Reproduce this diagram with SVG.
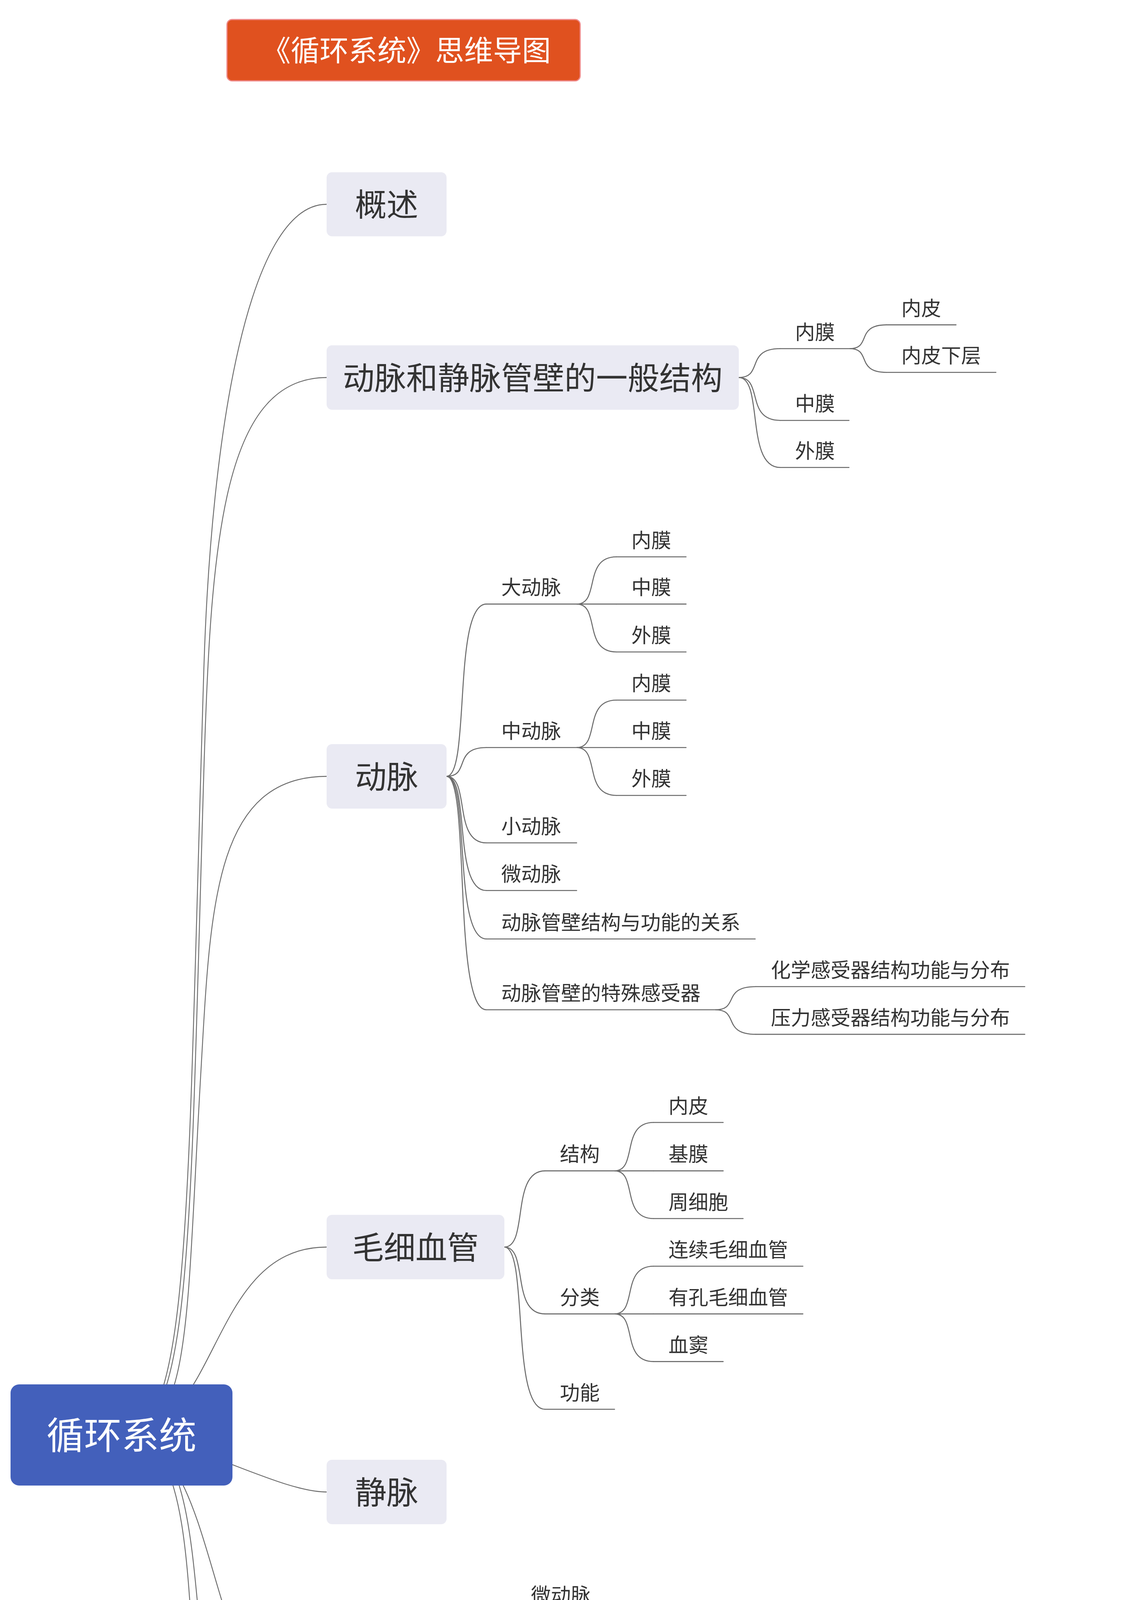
<svg xmlns="http://www.w3.org/2000/svg" width="2900" height="6956" viewBox="0 0 2900 6956">
<style>
text{font-family:"Liberation Sans","Noto Sans CJK SC",sans-serif;}
.mb{fill:#eaeaf3;}
.mt{font-size:81px;fill:#333;text-anchor:middle;}
.t{font-size:51px;fill:#333;}
.ul{stroke:#6b6b6b;stroke-width:2.6;fill:none;stroke-linecap:round;}
.c{stroke:#6b6b6b;stroke-width:2.6;fill:none;}
.rc{stroke:#6b6b6b;stroke-width:2.3;fill:none;}
</style>
<rect width="2900" height="6956" fill="#ffffff"/>
<g id="connectors">
<g id="root-connectors">
<path class="rc" d="M836 523 C636 523 541 1106 522 1706 C478.6 3106 491 3673 311 3673"/>
<path class="rc" d="M836 966.5 C566 966.5 538.6 1400 521 2000 C486 3190 491 3673 311 3673"/>
<path class="rc" d="M836 1987.5 C546 1987.5 538.4 2327 514 2747 C476 3397 491 3673 311 3673"/>
<path class="rc" d="M836 3192.5 C531 3192.5 566 3673 311 3673"/>
<path class="rc" d="M836 3819.5 C709 3819.5 472 3673 311 3673"/>
<path class="rc" d="M836 4383.5 C636 4383.5 623.3 4277.9 567.9 4097.9 C506.3 3897.9 461 3673 311 3673"/>
<path class="rc" d="M836 5039 C596 5039 562.3 4693 529.6 4363.2 C485 3913 491 3673 311 3673"/>
<path class="rc" d="M836 6122.5 C556 6122.5 533.5 5578 510.5 4777.8 C488.2 4002.8 491 3673 311 3673"/>
</g>
<path class="c" d="M1891 966.5 C1954.6 966.5 1906.9 892.5 1997 892.5"/>
<path class="c" d="M1891 966.5 C1954.6 966.5 1906.9 1076.2 1997 1076.2"/>
<path class="c" d="M1891 966.5 C1954.6 966.5 1906.9 1196.7 1997 1196.7"/>
<path class="c" d="M2175 892.5 C2231.4 892.5 2189.1 831.6 2269 831.6"/>
<path class="c" d="M2175 892.5 C2231.4 892.5 2189.1 953.3 2269 953.3"/>

<path class="c" d="M1143 1987.5 C1204.2 1987.5 1158.3 1546.4 1245 1546.4"/>
<path class="c" d="M1143 1987.5 C1204.2 1987.5 1158.3 1913.8 1245 1913.8"/>
<path class="c" d="M1143 1987.5 C1204.2 1987.5 1158.3 2157.8 1245 2157.8"/>
<path class="c" d="M1143 1987.5 C1204.2 1987.5 1158.3 2279.8 1245 2279.8"/>
<path class="c" d="M1143 1987.5 C1204.2 1987.5 1158.3 2403.7 1245 2403.7"/>
<path class="c" d="M1143 1987.5 C1204.2 1987.5 1158.3 2585 1245 2585"/>
<path class="c" d="M1476 1546.4 C1537.2 1546.4 1491.3 1425.5 1578 1425.5"/>
<path class="c" d="M1476 1546.4 L1578 1546.4"/>
<path class="c" d="M1476 1546.4 C1537.2 1546.4 1491.3 1669 1578 1669"/>
<path class="c" d="M1476 1913.8 C1537.2 1913.8 1491.3 1792.3 1578 1792.3"/>
<path class="c" d="M1476 1913.8 L1578 1913.8"/>
<path class="c" d="M1476 1913.8 C1537.2 1913.8 1491.3 2036.2 1578 2036.2"/>
<path class="c" d="M1831 2585 C1893.4 2585 1846.6 2525.8 1935 2525.8"/>
<path class="c" d="M1831 2585 C1893.4 2585 1846.6 2647.9 1935 2647.9"/>

<path class="c" d="M1291 3192.5 C1353.4 3192.5 1306.6 2997.4 1395 2997.4"/>
<path class="c" d="M1291 3192.5 C1353.4 3192.5 1306.6 3363.6 1395 3363.6"/>
<path class="c" d="M1291 3192.5 C1353.4 3192.5 1306.6 3607.7 1395 3607.7"/>
<path class="c" d="M1573 2997.4 C1633 2997.4 1588 2873.5 1673 2873.5"/>
<path class="c" d="M1573 2997.4 L1673 2997.4"/>
<path class="c" d="M1573 2997.4 C1633 2997.4 1588 3119.5 1673 3119.5"/>
<path class="c" d="M1573 3363.6 C1633 3363.6 1588 3241.5 1673 3241.5"/>
<path class="c" d="M1573 3363.6 L1673 3363.6"/>
<path class="c" d="M1573 3363.6 C1633 3363.6 1588 3485.6 1673 3485.6"/>

<path class="c" d="M1219 4383.5 C1280.2 4383.5 1234.3 4125.5 1321 4125.5"/>
<path class="c" d="M1219 4383.5 C1280.2 4383.5 1234.3 4247.6 1321 4247.6"/>
<path class="c" d="M1219 4383.5 C1280.2 4383.5 1234.3 4371.5 1321 4371.5"/>
<path class="c" d="M1219 4383.5 C1280.2 4383.5 1234.3 4493.5 1321 4493.5"/>
<path class="c" d="M1219 4383.5 C1280.2 4383.5 1234.3 4615.6 1321 4615.6"/>
<path class="c" d="M1219 4383.5 C1280.2 4383.5 1234.3 4737.7 1321 4737.7"/>

<path class="c" d="M1369 5039 C1431.4 5039 1384.6 4965.1 1473 4965.1"/>
<path class="c" d="M1369 5039 C1431.4 5039 1384.6 5087.2 1473 5087.2"/>
<path class="c" d="M1369 5039 C1431.4 5039 1384.6 5209.3 1473 5209.3"/>

<path class="c" d="M1143 6122.5 C1204.2 6122.5 1158.3 5741.9 1245 5741.9"/>
<path class="c" d="M1143 6122.5 C1204.2 6122.5 1158.3 6535.3 1245 6535.3"/>
<path class="c" d="M1576 5741.9 C1638.4 5741.9 1591.6 5558.8 1680 5558.8"/>
<path class="c" d="M1576 5741.9 C1638.4 5741.9 1591.6 5803 1680 5803"/>
<path class="c" d="M1576 5741.9 C1638.4 5741.9 1591.6 5925 1680 5925"/>
<path class="c" d="M1576 5741.9 C1638.4 5741.9 1591.6 6047 1680 6047"/>
<path class="c" d="M1909 5558.8 C1971.4 5558.8 1924.6 5436.7 2013 5436.7"/>
<path class="c" d="M1909 5558.8 C1971.4 5558.8 1924.6 5621.7 2013 5621.7"/>
<path class="c" d="M2293 5621.7 C2354.2 5621.7 2308.3 5558.8 2395 5558.8"/>
<path class="c" d="M2293 5621.7 C2354.2 5621.7 2308.3 5680.9 2395 5680.9"/>
<path class="c" d="M1627 6535.3 C1689.4 6535.3 1642.6 6293 1731 6293"/>
<path class="c" d="M1627 6535.3 L1731 6535.3"/>
<path class="c" d="M1627 6535.3 C1689.4 6535.3 1642.6 6781.5 1731 6781.5"/>
<path class="c" d="M1909 6293 C1969 6293 1924 6169 2009 6169"/>
<path class="c" d="M1909 6293 L2009 6293"/>
<path class="c" d="M1909 6293 C1969 6293 1924 6415 2009 6415"/>
<path class="c" d="M2011 6781.5 C2072.2 6781.5 2026.3 6658.6 2113 6658.6"/>
<path class="c" d="M2011 6781.5 L2113 6781.5"/>
<path class="c" d="M2011 6781.5 C2072.2 6781.5 2026.3 6904.3 2113 6904.3"/>
</g>

<g id="title">
<rect x="581" y="50" width="904" height="157" rx="13" fill="#e0511f" stroke="#f08a8a" stroke-width="3"/>
<text x="1040" y="156" style="font-size:74px;fill:#ffffff;text-anchor:middle;">《循环系统》思维导图</text>
</g>

<g id="root">
<rect x="27" y="3544" width="568" height="259" rx="22" fill="#4360bb"/>
<text x="311" y="3709" style="font-size:96px;fill:#ffffff;text-anchor:middle;">循环系统</text>
</g>

<g id="m-gaishu"><rect class="mb" x="836" y="441" width="307" height="164" rx="14"/><text class="mt" x="989.5" y="553">概述</text></g>
<g id="m-jiegou"><rect class="mb" x="836" y="884" width="1055" height="165" rx="14"/><text class="mt" x="1363.5" y="996.5">动脉和静脉管壁的一般结构</text></g>
<g id="m-dongmai"><rect class="mb" x="836" y="1905" width="307" height="165" rx="14"/><text class="mt" x="989.5" y="2017.5">动脉</text></g>
<g id="m-maoxi"><rect class="mb" x="836" y="3110" width="455" height="165" rx="14"/><text class="mt" x="1063.5" y="3222.5">毛细血管</text></g>
<g id="m-jingmai"><rect class="mb" x="836" y="3737" width="307" height="165" rx="14"/><text class="mt" x="989.5" y="3849.5">静脉</text></g>
<g id="m-weixunhuan"><rect class="mb" x="836" y="4301" width="383" height="165" rx="14"/><text class="mt" x="1027.5" y="4413.5">微循环</text></g>
<g id="m-linba"><rect class="mb" x="836" y="4958" width="533" height="163" rx="14"/><text class="mt" x="1102.5" y="5069.5">淋巴管系统</text></g>
<g id="m-xinzang"><rect class="mb" x="836" y="6040" width="307" height="165" rx="14"/><text class="mt" x="989.5" y="6152.5">心脏</text></g>

<g id="a-neimo"><line class="ul" x1="1997" y1="892.5" x2="2175" y2="892.5"/><text class="t" x="2035" y="868.5">内膜</text></g>
<g id="a-neipi"><line class="ul" x1="2269" y1="831.6" x2="2447" y2="831.6"/><text class="t" x="2307" y="807.6">内皮</text></g>
<g id="a-neipixia"><line class="ul" x1="2269" y1="953.3" x2="2549" y2="953.3"/><text class="t" x="2307" y="929.3">内皮下层</text></g>
<g id="a-zhongmo"><line class="ul" x1="1997" y1="1076.2" x2="2173" y2="1076.2"/><text class="t" x="2035" y="1052.2">中膜</text></g>
<g id="a-waimo"><line class="ul" x1="1997" y1="1196.7" x2="2173" y2="1196.7"/><text class="t" x="2035" y="1172.7">外膜</text></g>

<g id="b-da"><line class="ul" x1="1245" y1="1546.4" x2="1476" y2="1546.4"/><text class="t" x="1283" y="1522.4">大动脉</text></g>
<g id="b-da-nei"><line class="ul" x1="1578" y1="1425.5" x2="1756" y2="1425.5"/><text class="t" x="1616" y="1401.5">内膜</text></g>
<g id="b-da-zhong"><line class="ul" x1="1578" y1="1546.4" x2="1756" y2="1546.4"/><text class="t" x="1616" y="1522.4">中膜</text></g>
<g id="b-da-wai"><line class="ul" x1="1578" y1="1669" x2="1756" y2="1669"/><text class="t" x="1616" y="1645">外膜</text></g>
<g id="b-zhong"><line class="ul" x1="1245" y1="1913.8" x2="1476" y2="1913.8"/><text class="t" x="1283" y="1889.8">中动脉</text></g>
<g id="b-zhong-nei"><line class="ul" x1="1578" y1="1792.3" x2="1756" y2="1792.3"/><text class="t" x="1616" y="1768.3">内膜</text></g>
<g id="b-zhong-zhong"><line class="ul" x1="1578" y1="1913.8" x2="1756" y2="1913.8"/><text class="t" x="1616" y="1889.8">中膜</text></g>
<g id="b-zhong-wai"><line class="ul" x1="1578" y1="2036.2" x2="1756" y2="2036.2"/><text class="t" x="1616" y="2012.2">外膜</text></g>
<g id="b-xiao"><line class="ul" x1="1245" y1="2157.8" x2="1476" y2="2157.8"/><text class="t" x="1283" y="2133.8">小动脉</text></g>
<g id="b-wei"><line class="ul" x1="1245" y1="2279.8" x2="1476" y2="2279.8"/><text class="t" x="1283" y="2255.8">微动脉</text></g>
<g id="b-guanxi"><line class="ul" x1="1245" y1="2403.7" x2="1933" y2="2403.7"/><text class="t" x="1283" y="2379.7">动脉管壁结构与功能的关系</text></g>
<g id="b-ganshou"><line class="ul" x1="1245" y1="2585" x2="1831" y2="2585"/><text class="t" x="1283" y="2561">动脉管壁的特殊感受器</text></g>
<g id="b-huaxue"><line class="ul" x1="1935" y1="2525.8" x2="2623" y2="2525.8"/><text class="t" x="1973" y="2501.8">化学感受器结构功能与分布</text></g>
<g id="b-yali"><line class="ul" x1="1935" y1="2647.9" x2="2623" y2="2647.9"/><text class="t" x="1973" y="2623.9">压力感受器结构功能与分布</text></g>

<g id="c-jiegou"><line class="ul" x1="1395" y1="2997.4" x2="1573" y2="2997.4"/><text class="t" x="1433" y="2973.4">结构</text></g>
<g id="c-neipi"><line class="ul" x1="1673" y1="2873.5" x2="1851" y2="2873.5"/><text class="t" x="1711" y="2849.5">内皮</text></g>
<g id="c-jimo"><line class="ul" x1="1673" y1="2997.4" x2="1851" y2="2997.4"/><text class="t" x="1711" y="2973.4">基膜</text></g>
<g id="c-zhouxibao"><line class="ul" x1="1673" y1="3119.5" x2="1902" y2="3119.5"/><text class="t" x="1711" y="3095.5">周细胞</text></g>
<g id="c-fenlei"><line class="ul" x1="1395" y1="3363.6" x2="1573" y2="3363.6"/><text class="t" x="1433" y="3339.6">分类</text></g>
<g id="c-lianxu"><line class="ul" x1="1673" y1="3241.5" x2="2055" y2="3241.5"/><text class="t" x="1711" y="3217.5">连续毛细血管</text></g>
<g id="c-youkong"><line class="ul" x1="1673" y1="3363.6" x2="2055" y2="3363.6"/><text class="t" x="1711" y="3339.6">有孔毛细血管</text></g>
<g id="c-xuedou"><line class="ul" x1="1673" y1="3485.6" x2="1851" y2="3485.6"/><text class="t" x="1711" y="3461.6">血窦</text></g>
<g id="c-gongneng"><line class="ul" x1="1395" y1="3607.7" x2="1573" y2="3607.7"/><text class="t" x="1433" y="3583.7">功能</text></g>

<g id="e-weidongmai"><line class="ul" x1="1321" y1="4125.5" x2="1548" y2="4125.5"/><text class="t" x="1359" y="4101.5">微动脉</text></g>
<g id="e-zhongjian"><line class="ul" x1="1321" y1="4247.6" x2="1652" y2="4247.6"/><text class="t" x="1359" y="4223.6">中间微动脉</text></g>
<g id="e-zhenmaoxi"><line class="ul" x1="1321" y1="4371.5" x2="1652" y2="4371.5"/><text class="t" x="1359" y="4347.5">真毛细血管</text></g>
<g id="e-zhijie"><line class="ul" x1="1321" y1="4493.5" x2="1601" y2="4493.5"/><text class="t" x="1359" y="4469.5">直捷通路</text></g>
<g id="e-wenhe"><line class="ul" x1="1321" y1="4615.6" x2="1652" y2="4615.6"/><text class="t" x="1359" y="4591.6">动静脉吻合</text></g>
<g id="e-weijingmai"><line class="ul" x1="1321" y1="4737.7" x2="1548" y2="4737.7"/><text class="t" x="1359" y="4713.7">微静脉</text></g>

<g id="f-maoxilinba"><line class="ul" x1="1473" y1="4965.1" x2="1804" y2="4965.1"/><text class="t" x="1511" y="4941.1">毛细淋巴管</text></g>
<g id="f-linbaguan"><line class="ul" x1="1473" y1="5087.2" x2="1702" y2="5087.2"/><text class="t" x="1511" y="5063.2">淋巴管</text></g>
<g id="f-daoguan"><line class="ul" x1="1473" y1="5209.3" x2="1753" y2="5209.3"/><text class="t" x="1511" y="5185.3">淋巴导管</text></g>

<g id="g-xinbi"><line class="ul" x1="1245" y1="5741.9" x2="1576" y2="5741.9"/><text class="t" x="1283" y="5717.9">心壁的结构</text></g>
<g id="g-xinneimo"><line class="ul" x1="1680" y1="5558.8" x2="1909" y2="5558.8"/><text class="t" x="1718" y="5534.8">心内膜</text></g>
<g id="g-neipi"><line class="ul" x1="2013" y1="5436.7" x2="2191" y2="5436.7"/><text class="t" x="2051" y="5412.7">内皮</text></g>
<g id="g-neipixia"><line class="ul" x1="2013" y1="5621.7" x2="2293" y2="5621.7"/><text class="t" x="2051" y="5597.7">内皮下层</text></g>
<g id="g-neiceng"><line class="ul" x1="2395" y1="5558.8" x2="2573" y2="5558.8"/><text class="t" x="2433" y="5534.8">内层</text></g>
<g id="g-waiceng"><line class="ul" x1="2395" y1="5680.9" x2="2879" y2="5680.9"/><text class="t" x="2433" y="5656.9">外层：心内膜下层</text></g>
<g id="g-xinjimo"><line class="ul" x1="1680" y1="5803" x2="1909" y2="5803"/><text class="t" x="1718" y="5779">心肌膜</text></g>
<g id="g-xinwaimo"><line class="ul" x1="1680" y1="5925" x2="1909" y2="5925"/><text class="t" x="1718" y="5901">心外膜</text></g>
<g id="g-xinbanmo"><line class="ul" x1="1680" y1="6047" x2="1909" y2="6047"/><text class="t" x="1718" y="6023">心瓣膜</text></g>
<g id="g-chuandao"><line class="ul" x1="1245" y1="6535.3" x2="1627" y2="6535.3"/><text class="t" x="1283" y="6511.3">心脏传导系统</text></g>
<g id="g-zucheng"><line class="ul" x1="1731" y1="6293" x2="1909" y2="6293"/><text class="t" x="1769" y="6269">组成</text></g>
<g id="g-doufang"><line class="ul" x1="2009" y1="6169" x2="2238" y2="6169"/><text class="t" x="2047" y="6145">窦房结</text></g>
<g id="g-fangshi"><line class="ul" x1="2009" y1="6293" x2="2238" y2="6293"/><text class="t" x="2047" y="6269">房室结</text></g>
<g id="g-fangshishu"><line class="ul" x1="2009" y1="6415" x2="2493" y2="6415"/><text class="t" x="2047" y="6391">房室束与各级分支</text></g>
<g id="g-gongneng"><line class="ul" x1="1731" y1="6535.3" x2="1909" y2="6535.3"/><text class="t" x="1769" y="6511.3">功能</text></g>
<g id="g-xibao"><line class="ul" x1="1731" y1="6781.5" x2="2011" y2="6781.5"/><text class="t" x="1769" y="6757.5">细胞构成</text></g>
<g id="g-qibo"><line class="ul" x1="2113" y1="6658.6" x2="2393" y2="6658.6"/><text class="t" x="2151" y="6634.6">起搏细胞</text></g>
<g id="g-yixing"><line class="ul" x1="2113" y1="6781.5" x2="2393" y2="6781.5"/><text class="t" x="2151" y="6757.5">移行细胞</text></g>
<g id="g-puken"><line class="ul" x1="2113" y1="6904.3" x2="2444" y2="6904.3"/><text class="t" x="2151" y="6880.3">浦肯野纤维</text></g>
</svg>
